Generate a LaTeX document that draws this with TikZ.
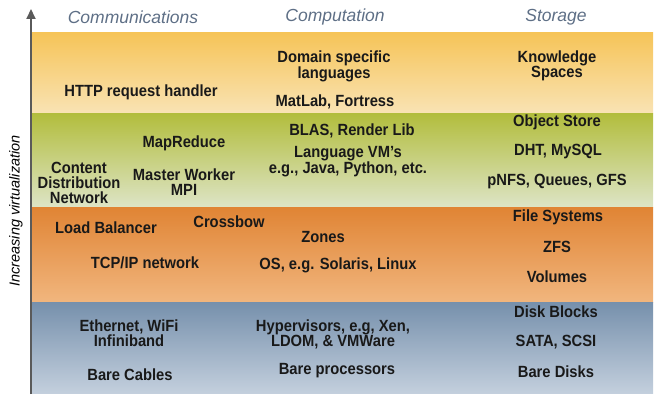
\documentclass[tikz,border=0pt]{standalone}
\usepackage{fontspec}
\setmainfont{Liberation Sans}[BoldFeatures={FakeStretch=0.91}]
\usetikzlibrary{arrows.meta}

\definecolor{layeryellowtop}{HTML}{F6C458}
\definecolor{layeryellowbot}{HTML}{F9E3B4}
\definecolor{layergreentop}{HTML}{B2BD3C}
\definecolor{layergreenbot}{HTML}{DDE4C6}
\definecolor{layerorangetop}{HTML}{E08434}
\definecolor{layerorangebot}{HTML}{F1B67E}
\definecolor{layerbluetop}{HTML}{7690AC}
\definecolor{layerbluebot}{HTML}{C3CFDD}
\definecolor{headgray}{HTML}{5E6F86}
\definecolor{axisgray}{HTML}{5A5A5A}

\tikzset{
  item/.style={font=\fontsize{16.2}{14.9}\selectfont\bfseries, text=black!90, align=center, inner sep=0pt},
  colhead/.style={font=\fontsize{17.5}{17.5}\selectfont\itshape, text=headgray, inner sep=0pt}
}

\begin{document}
\begin{tikzpicture}[x=1pt,y=-1pt]
                \useasboundingbox (0,0) rectangle (661,404);

                % Layers
                \shade[top color=layeryellowtop, bottom color=layeryellowbot] (32,33) rectangle (653,113);
                \shade[top color=layergreentop, bottom color=layergreenbot] (32,113) rectangle (653,207);
                \shade[top color=layerorangetop, bottom color=layerorangebot] (32,207) rectangle (653,302);
                \shade[top color=layerbluetop, bottom color=layerbluebot] (32,302) rectangle (653,393);

                % Axis
                \coordinate (axisbot) at (31,394);
                \coordinate (axistop) at (31,9);
                \draw[axisgray, line width=1.8pt, -{Triangle[width=9pt,length=10pt]}] (axisbot) -- (axistop);
                \node[font=\fontsize{14.5}{14.5}\selectfont\itshape, rotate=90, inner sep=0pt] (axislabel) at (16,211) {Increasing virtualization};

                % Column heads
                \node[colhead] (commhead) at (133,17) {Communications};
                \node[colhead] (comphead) at (335,17) {Computation};
                \node[colhead] (storhead) at (556,17) {Storage};

                % Labels
                \node[item] (http) at (141,92) {HTTP request handler};
                \node[item] (domain) at (334,66) {Domain specific\\languages};
                \node[item] (matlab) at (335,102) {MatLab, Fortress};
                \node[item] (knowledge) at (557,66) {Knowledge\\Spaces};

                \node[item] (mapreduce) at (184,143) {MapReduce};
                \node[item] (cdn) at (79,183) {Content\\Distribution\\Network};
                \node[item] (master) at (184,182) {Master Worker\\MPI};
                \node[item] (blas) at (352,131) {BLAS, Render Lib};
                \node[item] (langvm) at (348,162) {Language VM's\\e.g., Java, Python, etc.};
                \node[item] (objstore) at (557,122) {Object Store};
                \node[item] (dht) at (558,152) {DHT, MySQL};
                \node[item] (pnfs) at (557,182) {pNFS, Queues, GFS};

                \node[item] (loadbal) at (106,228) {Load Balancer};
                \node[item] (crossbow) at (229,222) {Crossbow};
                \node[item] (zones) at (323,237) {Zones};
                \node[item] (tcpip) at (145,263) {TCP/IP network};
                \node[item] (os) at (338,265) {OS, e.g. Solaris, Linux};
                \node[item] (filesys) at (558,217) {File Systems};
                \node[item] (zfs) at (557,247) {ZFS};
                \node[item] (volumes) at (557,277) {Volumes};

                \node[item] (ethernet) at (129,333) {Ethernet, WiFi\\Infiniband};
                \node[item] (cables) at (130,375) {Bare Cables};
                \node[item] (hyper) at (333,334) {Hypervisors, e.g, Xen,\\LDOM, \& VMWare};
                \node[item] (procs) at (337,371) {Bare processors};
                \node[item] (diskblocks) at (556,312) {Disk Blocks};
                \node[item] (sata) at (556,342) {SATA, SCSI};
                \node[item] (disks) at (556,372) {Bare Disks};
\end{tikzpicture}
\end{document}
